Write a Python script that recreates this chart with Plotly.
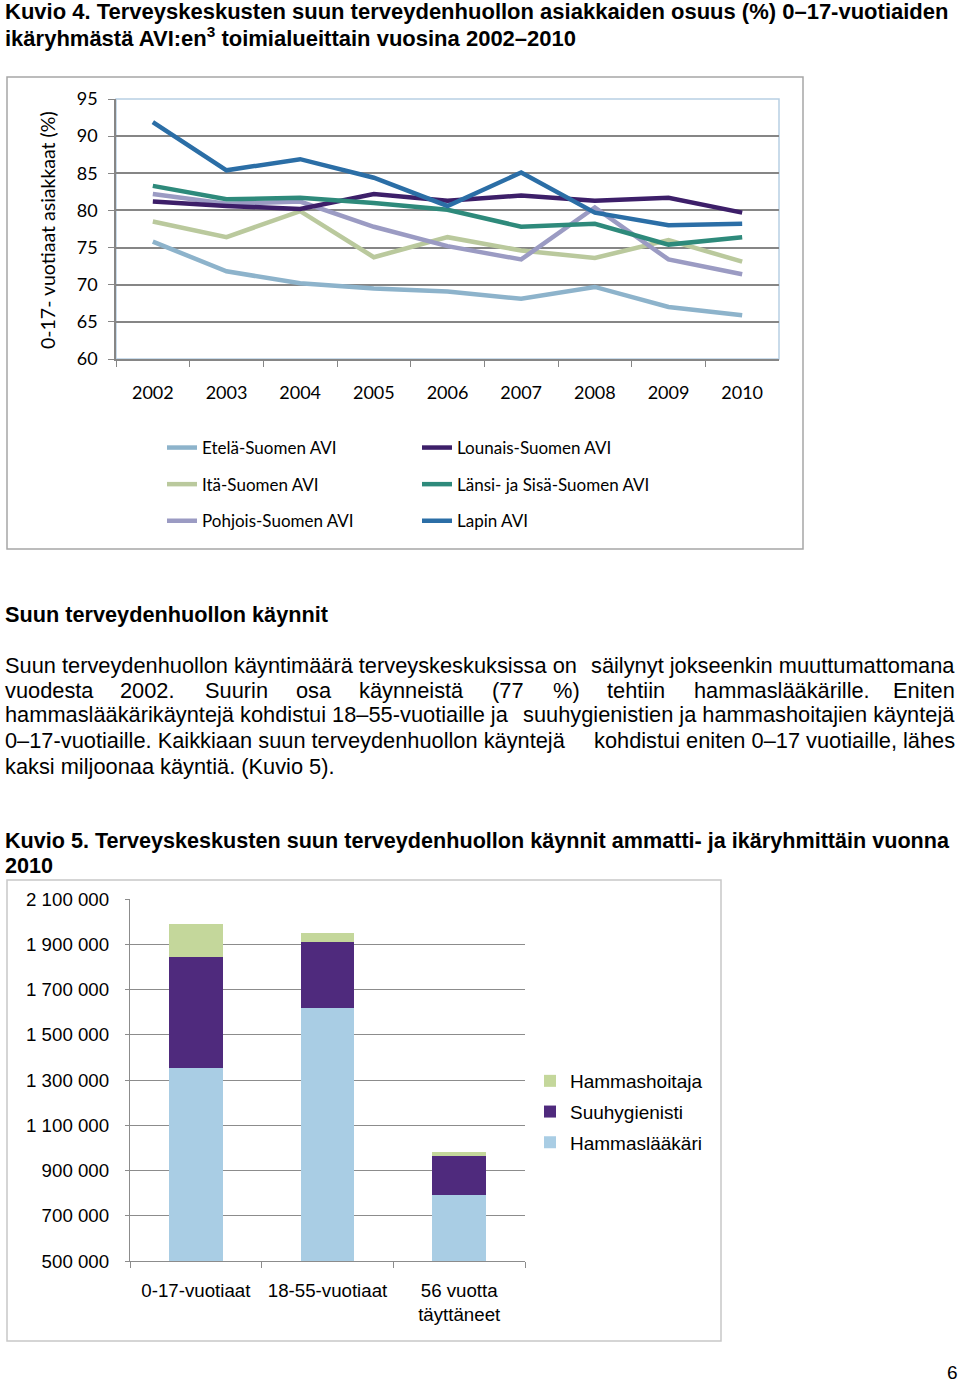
import plotly.graph_objects as go

W, H = 960, 1383

# ---------------- data: Kuvio 4 ----------------
years = ["2002", "2003", "2004", "2005", "2006", "2007", "2008", "2009", "2010"]
etela = [75.8, 71.8, 70.2, 69.5, 69.1, 68.1, 69.7, 67.0, 65.9]
ita = [78.5, 76.4, 79.9, 73.7, 76.4, 74.6, 73.6, 76.0, 73.1]
pohjois = [82.2, 80.9, 81.2, 77.8, 75.2, 73.4, 80.4, 73.4, 71.4]
lounais = [81.2, 80.6, 80.2, 82.2, 81.3, 82.0, 81.3, 81.7, 79.7]
lansi = [83.3, 81.5, 81.7, 81.0, 80.1, 77.8, 78.2, 75.4, 76.4]
lapin = [91.9, 85.4, 86.9, 84.4, 80.6, 85.1, 79.7, 78.0, 78.2]

# ---------------- data: Kuvio 5 ----------------
age_groups = ["0-17-vuotiaat", "18-55-vuotiaat", "56 vuotta<br>täyttäneet"]
hammaslaakari = [1351000, 1617000, 792000]
suuhygienisti = [491000, 295000, 172000]
hammashoitaja = [146000, 37000, 18000]


def px(x):
    return x / W


def py(y):
    return 1 - y / H


fig = go.Figure()

line_series = [
    ("Etelä-Suomen AVI", etela, "#8db3cb", "legend"),
    ("Itä-Suomen AVI", ita, "#bac99d", "legend"),
    ("Pohjois-Suomen AVI", pohjois, "#9b9bc3", "legend"),
    ("Lounais-Suomen AVI", lounais, "#3d1f69", "legend2"),
    ("Länsi- ja Sisä-Suomen AVI", lansi, "#2e8a7b", "legend2"),
    ("Lapin AVI", lapin, "#2b6ea6", "legend2"),
]
for i, (name, vals, col, leg) in enumerate(line_series):
    fig.add_trace(go.Scatter(
        x=years, y=vals, name=name, mode="lines",
        line=dict(color=col, width=4.5),
        xaxis="x", yaxis="y", legend=leg, legendgroup=f"g{i}",
    ))

bar_series = [
    ("Hammaslääkäri", hammaslaakari, "#a9cde4"),
    ("Suuhygienisti", suuhygienisti, "#4f2a7d"),
    ("Hammashoitaja", hammashoitaja, "#c4d79b"),
]
for j, (name, vals, col) in enumerate(bar_series):
    fig.add_trace(go.Bar(
        x=age_groups, y=vals, name=name, marker=dict(color=col, line=dict(width=0)),
        xaxis="x2", yaxis="y2", legend="legend3", legendgroup=f"b{j}",
        legendrank=1000 - j,
    ))

calibri = "Lato, Open Sans, sans-serif"
arial = "Liberation Sans, Arial, sans-serif"

fig.update_layout(
    width=W, height=H,
    margin=dict(l=0, r=0, t=0, b=0, pad=0, autoexpand=False),
    paper_bgcolor="white", plot_bgcolor="white",
    showlegend=True,
    barmode="stack", bargap=0.59,
    separators=", ",
    xaxis=dict(
        domain=[px(116), px(779)], anchor="y", type="category", range=[-0.5, 8.5],
        tickson="boundaries", ticks="outside", ticklen=6, tickcolor="#868686",
        showline=True, linecolor="#868686", linewidth=1.5, showgrid=False,
        tickfont=dict(family=calibri, size=18, color="#000"),
        ticklabelstandoff=17, tickangle=0,
    ),
    yaxis=dict(
        domain=[py(359), py(99)], anchor="x", range=[60, 95], dtick=5, tick0=60,
        ticks="outside", ticklen=6, tickcolor="#868686",
        showline=True, linecolor="#868686", linewidth=1.5,
        showgrid=True, gridcolor="#868686", gridwidth=1.5, zeroline=False,
        tickfont=dict(family=calibri, size=18, color="#000"),
        ticklabelstandoff=7,
    ),
    xaxis2=dict(
        domain=[px(130), px(525)], anchor="y2", type="category",
        tickson="boundaries", ticks="outside", ticklen=6, tickcolor="#8c8c8c",
        showline=True, linecolor="#8c8c8c", linewidth=1.2, showgrid=False,
        tickfont=dict(family=arial, size=18.7, color="#000"),
        ticklabelstandoff=12, tickangle=0,
    ),
    yaxis2=dict(
        domain=[py(1261), py(899)], anchor="x2", range=[500000, 2100000],
        tick0=500000, dtick=200000,
        tickformat=",d", ticks="outside", ticklen=4, tickcolor="#8c8c8c",
        showline=True, linecolor="#8c8c8c", linewidth=1.2,
        showgrid=True, gridcolor="#8c8c8c", gridwidth=1.2, zeroline=False,
        tickfont=dict(family=arial, size=18.7, color="#000"),
        ticklabelstandoff=12,
    ),
    legend=dict(
        x=px(162), y=py(430), xanchor="left", yanchor="top",
        font=dict(family=calibri, size=17, color="#000"),
        traceorder="grouped", tracegroupgap=11.5, bgcolor="rgba(0,0,0,0)",
    ),
    legend2=dict(
        x=px(417), y=py(430), xanchor="left", yanchor="top",
        font=dict(family=calibri, size=17, color="#000"),
        traceorder="grouped", tracegroupgap=11.5, bgcolor="rgba(0,0,0,0)",
    ),
    legend3=dict(
        x=px(530), y=py(1062), xanchor="left", yanchor="top",
        font=dict(family=arial, size=19, color="#000"),
        traceorder="grouped", tracegroupgap=3, bgcolor="rgba(0,0,0,0)",
    ),
)

shapes = [
    dict(type="rect", xref="paper", yref="paper", x0=px(7), x1=px(803), y0=py(549), y1=py(77),
         line=dict(color="#a6a6a6", width=1.5), layer="below"),
    dict(type="rect", xref="paper", yref="paper", x0=px(116), x1=px(779), y0=py(359), y1=py(99),
         line=dict(color="#b8cfe4", width=1.5), layer="below"),
    dict(type="rect", xref="paper", yref="paper", x0=px(7), x1=px(721), y0=py(1341), y1=py(880),
         line=dict(color="#c8c8c8", width=1.5), layer="below"),
]
fig.update_layout(shapes=shapes)

ann = []


def text(x, y, s, size=21.8, family=arial, bold=False, anchor="left", angle=0):
    if bold:
        s = f"<b>{s}</b>"
    ann.append(dict(x=px(x), y=py(y), xref="paper", yref="paper", text=s, showarrow=False,
                    xanchor=anchor, yanchor="middle", textangle=angle,
                    font=dict(family=family, size=size, color="#000")))


def justified(y, left, right):
    text(3, y, left)
    text(957, y, right, anchor="right")


text(3, 12, "Kuvio 4. Terveyskeskusten suun terveydenhuollon asiakkaiden osuus (%) 0–17-vuotiaiden",
     size=22.0, bold=True)
text(3, 37, "ikäryhmästä AVI:en<sup>3</sup> toimialueittain vuosina 2002–2010", size=22.0, bold=True)
text(47, 230, "0-17- vuotiaat asiakkaat (%)", size=19.5, family=calibri, anchor="center", angle=-90)

text(3, 614, "Suun terveydenhuollon käynnit", size=21.7, bold=True)
justified(665, "Suun terveydenhuollon käyntimäärä terveyskeskuksissa on",
          "säilynyt jokseenkin muuttumattomana")
for xw, w in [(3, "vuodesta"), (118, "2002."), (203, "Suurin"), (294, "osa"), (357, "käynneistä"),
              (490, "(77"), (551, "%)"), (605, "tehtiin"), (692, "hammaslääkärille.")]:
    text(xw, 690, w)
text(957, 690, "Eniten", anchor="right")
justified(715, "hammaslääkärikäyntejä kohdistui 18–55-vuotiaille ja",
          "suuhygienistien ja hammashoitajien käyntejä")
justified(740, "0–17-vuotiaille. Kaikkiaan suun terveydenhuollon käyntejä",
          "kohdistui eniten 0–17 vuotiaille, lähes")
text(3, 766, "kaksi miljoonaa käyntiä. (Kuvio 5).")

text(3, 840, "Kuvio 5. Terveyskeskusten suun terveydenhuollon käynnit ammatti- ja ikäryhmittäin vuonna",
     size=21.6, bold=True)
text(3, 865, "2010", size=21.6, bold=True)

text(952, 1372, "6", size=19, anchor="center")

fig.update_layout(annotations=ann)

fig.write_html(
    "out.html",
    config={"displayModeBar": False},
    post_script="document.body.style.margin='0';document.body.style.overflow='hidden';",
)
